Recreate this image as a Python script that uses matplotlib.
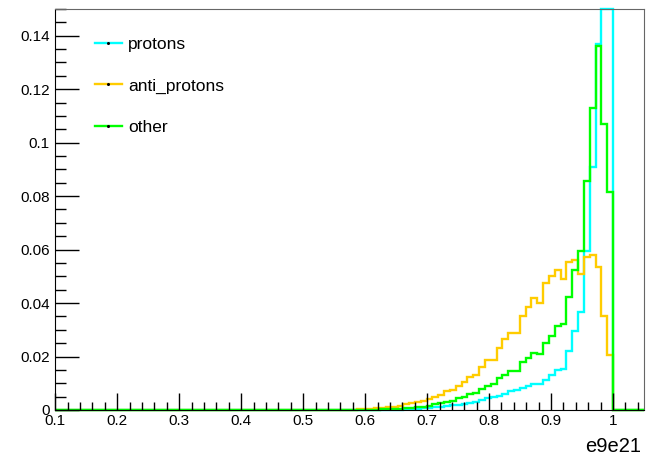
import numpy as np
import matplotlib

matplotlib.use("Agg")
import matplotlib.pyplot as plt
from matplotlib.lines import Line2D
from matplotlib.ticker import FuncFormatter, MultipleLocator

plt.rcParams["font.family"] = ["Liberation Sans", "DejaVu Sans"]

# histogram contents, left to right; every series ends at the bin [1 - w, 1]
bin_width = 0.0094
x_min, x_max = 0.1, 1.05
y_max = 0.15

protons = [
    0.0002, 0.0003, 0.0005, 0.0006, 0.0007, 0.0010, 0.0012, 0.0015, 0.0017,
    0.0020, 0.0024, 0.0027, 0.0031, 0.0037, 0.0043, 0.0047, 0.0052, 0.0060,
    0.0070, 0.0074, 0.0083, 0.0090, 0.0097, 0.0097, 0.0112, 0.0130, 0.0149,
    0.0155, 0.0221, 0.0295, 0.0366, 0.0595, 0.0909, 0.1368, 0.175, 0.19,
]
anti_protons = [
    0.0003, 0.0004, 0.0005, 0.0007, 0.0009, 0.0011, 0.0013, 0.0016, 0.0021,
    0.0025, 0.0029, 0.0033, 0.0040, 0.0047, 0.0056, 0.0071, 0.0074, 0.0089,
    0.0105, 0.0122, 0.0130, 0.0161, 0.0186, 0.0188, 0.0233, 0.0264, 0.0289,
    0.0289, 0.0351, 0.0384, 0.0418, 0.0400, 0.0474, 0.0500, 0.0525, 0.0490,
    0.0555, 0.0560, 0.0508, 0.0574, 0.0580, 0.0536, 0.0353, 0.0207,
]
other = [
    0.0002, 0.0003, 0.0004, 0.0005, 0.0007, 0.0009, 0.0010, 0.0012, 0.0016,
    0.0021, 0.0025, 0.0031, 0.0035, 0.0043, 0.0050, 0.0058, 0.0064, 0.0078,
    0.0090, 0.0099, 0.0118, 0.0132, 0.0146, 0.0146, 0.0180, 0.0195, 0.0213,
    0.0211, 0.0250, 0.0275, 0.0314, 0.0322, 0.0424, 0.0523, 0.0595, 0.0858,
    0.1130, 0.1360, 0.1070, 0.0815,
]

series = [
    ("protons", protons, "#00ffff"),
    ("anti_protons", anti_protons, "#ffcc00"),
    ("other", other, "#00ff00"),
]

n_bins = max(len(v) for _, v, _ in series)
inner_edges = 1.0 - bin_width * np.arange(n_bins, -1, -1)
edges = np.concatenate([[x_min], inner_edges, [x_max]])

fig = plt.figure(figsize=(6.5, 4.62), dpi=100)
ax = fig.add_axes([0.0851, 0.1126, 0.9057, 0.868])

for name, values, color in series:
    padded = np.zeros(n_bins)
    padded[n_bins - len(values):] = values
    # ROOT draws bins above the maximum flat along the top of the frame
    shown = np.minimum(np.concatenate([[0.0], padded, [0.0]]), y_max)
    ax.stairs(shown, edges, color=color, lw=1.7, baseline=None, clip_on=False)

ax.set_xlim(x_min, x_max)
ax.set_ylim(0, y_max)

ax.xaxis.set_major_locator(MultipleLocator(0.1))
ax.xaxis.set_minor_locator(MultipleLocator(0.02))
ax.yaxis.set_major_locator(MultipleLocator(0.02))
ax.yaxis.set_minor_locator(MultipleLocator(0.005))
fmt = FuncFormatter(lambda v, _: f"{v:.10g}" if abs(v) > 1e-9 else "0")
ax.xaxis.set_major_formatter(fmt)
ax.yaxis.set_major_formatter(fmt)

ax.tick_params(axis="x", which="major", direction="in", length=12, width=1, labelsize=11, pad=3)
ax.tick_params(axis="x", which="minor", direction="in", length=6, width=1)
ax.tick_params(axis="y", which="major", direction="in", length=17, width=1, labelsize=11, pad=4)
ax.tick_params(axis="y", which="minor", direction="in", length=8, width=1)
ax.tick_params(top=False, right=False, which="both")

for side in ("left", "bottom"):
    ax.spines[side].set_color("black")
for side in ("top", "right"):
    ax.spines[side].set_color("#666666")

fig.text(0.986, 0.012, "e9e21", ha="right", va="bottom", fontsize=14.5)

handles = [
    Line2D([], [], color=c, lw=1.7, marker="o", markersize=1.2,
           markerfacecolor="black", markeredgecolor="black")
    for _, _, c in series
]
ax.legend(
    handles, [n for n, _, _ in series],
    loc="upper left", bbox_to_anchor=(0.0674, 0.93),
    frameon=False, fontsize=12.5, borderpad=0, borderaxespad=0,
    labelspacing=1.5, handlelength=1.55, handletextpad=0.35,
)

fig.savefig("out.png", dpi=100)
